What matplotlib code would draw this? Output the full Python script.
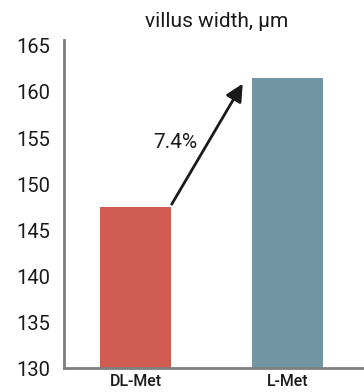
import matplotlib.pyplot as plt

# data
categories = ['DL-Met', 'L-Met']
values = [147.5, 161.5]
bar_colors = ['#D05C52', '#7394A3']
y_ticks = [130, 135, 140, 145, 150, 155, 160, 165]
change_label = '7.4%'

plt.rcParams['font.family'] = ['Roboto', 'DejaVu Sans']

fig = plt.figure(figsize=(3.64, 3.92), dpi=100)
ax = fig.add_axes([0.176, 0.061, 0.824, 0.837])

x = range(len(categories))
ax.bar(x, values, width=0.467, color=bar_colors, zorder=2)

ax.set_ylim(130, 165.65)
ax.set_xlim(-0.47, 1.503)
ax.set_yticks(y_ticks)
ax.set_xticks(list(x))
ax.set_xticklabels(categories, fontsize=11.5, color='#1a1a1a', weight='medium')
ax.tick_params(axis='y', length=0, pad=10, labelsize=14.5, labelcolor='#1a1a1a')
ax.tick_params(axis='x', length=0, pad=4)

for side in ['top', 'right']:
    ax.spines[side].set_visible(False)
for side in ['left', 'bottom']:
    ax.spines[side].set_color('#7f7f7f')
    ax.spines[side].set_linewidth(2)

# growth arrow between the bars
ax.annotate('', xy=(0.705, 160.9), xytext=(0.238, 147.8),
            arrowprops=dict(arrowstyle='-|>', color='#1a1a1a', lw=2,
                            mutation_scale=26, shrinkA=0, shrinkB=0))
ax.text(0.26, 154.5, change_label, fontsize=15, color='#1a1a1a',
        ha='center', va='center')

fig.text(0.596, 0.944, 'villus width, μm', fontsize=15, color='#1a1a1a',
         ha='center', va='center')

fig.savefig('out.png', dpi=100)
